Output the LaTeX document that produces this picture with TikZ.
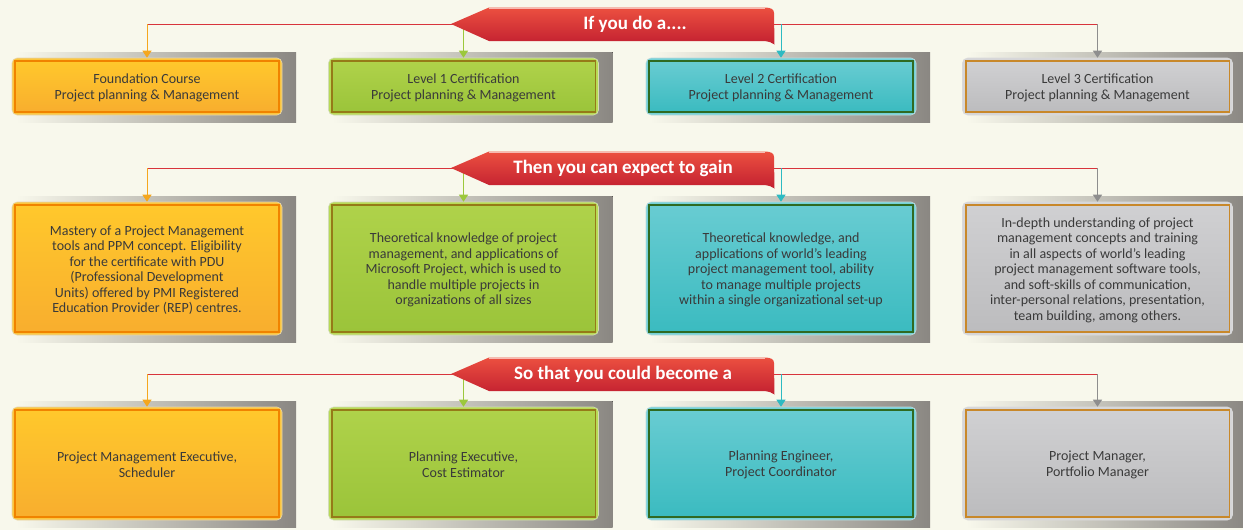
\documentclass[tikz,border=0pt]{standalone}
\usepackage{fontspec}
\setmainfont{Carlito}
\usetikzlibrary{arrows.meta}
\definecolor{bg}{HTML}{F8F8EC}
\definecolor{shgray}{HTML}{8A8782}
\definecolor{txt}{HTML}{3A3A3A}
\definecolor{redline}{HTML}{D8343C}
\definecolor{redtop}{HTML}{EC5040}
\definecolor{redbot}{HTML}{C21F30}
% orange
\definecolor{orarim}{HTML}{FCC63E}
\definecolor{oratop}{HTML}{FFC82C}
\definecolor{orabot}{HTML}{F8AE2E}
\definecolor{orabd}{HTML}{F08300}
\definecolor{oraarr}{HTML}{F5A71E}
% green
\definecolor{grnrim}{HTML}{B8DA55}
\definecolor{grntop}{HTML}{AFD24A}
\definecolor{grnbot}{HTML}{9BC43A}
\definecolor{grnbd}{HTML}{957A18}
\definecolor{grnarr}{HTML}{9CC83C}
% teal
\definecolor{tearim}{HTML}{74D2D8}
\definecolor{teatop}{HTML}{68CCD2}
\definecolor{teabot}{HTML}{3BBBC0}
\definecolor{teabd}{HTML}{2F6A22}
\definecolor{teaarr}{HTML}{2DBAC2}
% gray
\definecolor{gryrim}{HTML}{D6D6D8}
\definecolor{grytop}{HTML}{D0D0D2}
\definecolor{grybot}{HTML}{BCBCBE}
\definecolor{grybd}{HTML}{C8882A}
\definecolor{gryarr}{HTML}{8E8E8E}
\tikzset{
  boxbase/.style={rounded corners=5pt, inner sep=0pt, draw=white!70!#1rim!90!black, line width=0.6pt, fill=#1rim},
  boxtext/.style={text=txt, align=center, inner sep=0pt},
  conn/.style={line width=1pt, -{Triangle[width=9pt,length=7pt]}},
  hline/.style={draw=redline, line width=1pt},
  bannertext/.style={text=white, font=\bfseries\fontsize{19}{22}\selectfont, inner sep=0pt},
}
% \cbox{name}{x}{y}{w}{h}{colour prefix}{font}{text}
\newcommand\cbox[8]{%
  \fill[left color=bg, right color=shgray] (#2-#4/2+4, #3-#5/2-6) rectangle (#2+#4/2+14, #3+#5/2+7);
  \node[boxbase=#6, minimum width=#4pt, minimum height=#5pt] (#1) at (#2,#3) {};
  \draw[top color=#6top, bottom color=#6bot, draw=#6bd, line width=1.6pt]
    ([shift={(3.5,3.5)}]#1.north west) rectangle ([shift={(-3.5,-3.5)}]#1.south east);
  \node[boxtext, font=#7] (#1t) at ([yshift=-1.5pt]#1.center) {#8};
}
% \ribbon{name}{y}{text}{text x}
\newcommand\ribbon[4]{%
  \begin{scope}[yshift=-#2pt]
    \path[top color=redtop, bottom color=redbot]
      (451,0) -- (489,-16.5) -- (765,-16.5) .. controls (771,-16.5) and (774,-14.5) .. (774,-11)
      -- (774.5,20.5) .. controls (772,18.5) and (769,17.5) .. (764,17) -- (489,17) -- cycle;
    \draw[white!60!redtop, line width=0.6pt] (489,-16) -- (765,-16);
    \node[bannertext] (#1) at (#4,0) {#3};
  \end{scope}
}
\begin{document}
\begin{tikzpicture}[x=1pt,y=-1pt]
\fill[bg] (0,0) rectangle (1243,530);
\useasboundingbox (0,0) rectangle (1243,530);

\def\fa{\fontsize{14}{16.2}\selectfont}
\def\fb{\fontsize{14}{15.5}\selectfont}

% Row 1 boxes
\cbox{b11}{147}{86.5}{270}{57}{ora}{\fa}{Foundation Course\\Project planning \& Management}
\cbox{b12}{463.5}{86.5}{270}{57}{grn}{\fa}{Level 1 Certification\\Project planning \& Management}
\cbox{b13}{781}{86.5}{270}{57}{tea}{\fa}{Level 2 Certification\\Project planning \& Management}
\cbox{b14}{1097.5}{86.5}{270}{57}{gry}{\fa}{Level 3 Certification\\Project planning \& Management}

% Row 2 boxes
\cbox{b21}{147}{268.5}{270}{133}{ora}{\fb}{Mastery of a Project Management\\tools and PPM concept. Eligibility\\for the certificate with PDU\\(Professional Development\\Units) offered by PMI Registered\\Education Provider (REP) centres.}
\cbox{b22}{463.5}{268.5}{270}{133}{grn}{\fb}{Theoretical knowledge of project\\management, and applications of\\Microsoft Project, which is used to\\handle multiple projects in\\organizations of all sizes}
\cbox{b23}{781}{268.5}{270}{133}{tea}{\fb}{Theoretical knowledge, and\\applications of world's leading\\project management tool, ability\\to manage multiple projects\\within a single organizational set-up}
\cbox{b24}{1097.5}{268.5}{270}{133}{gry}{\fb}{In-depth understanding of project\\management concepts and training\\in all aspects of world's leading\\project management software tools,\\and soft-skills of communication,\\inter-personal relations, presentation,\\team building, among others.}

% Row 3 boxes
\cbox{b31}{147}{463.5}{270}{113}{ora}{\fa}{Project Management Executive,\\Scheduler}
\cbox{b32}{463.5}{463.5}{270}{113}{grn}{\fa}{Planning Executive,\\Cost Estimator}
\cbox{b33}{781}{463.5}{270}{113}{tea}{\fa}{Planning Engineer,\\Project Coordinator}
\cbox{b34}{1097.5}{463.5}{270}{113}{gry}{\fa}{Project Manager,\\Portfolio Manager}

% connector coordinates
\foreach \r/\y in {1/24, 2/168, 3/374} {
  \coordinate (c\r a) at (147,\y);
  \coordinate (c\r b) at (463.5,\y);
  \coordinate (c\r c) at (781,\y);
  \coordinate (c\r d) at (1097.5,\y);
}
\foreach \r in {1,2,3} {
  \draw[hline] (c\r a) -- (c\r d);
  \draw[conn, draw=oraarr, fill=oraarr] (c\r a) -- (b\r1);
  \draw[conn, draw=grnarr, fill=grnarr] (c\r b) -- (b\r2);
  \draw[conn, draw=teaarr, fill=teaarr] (c\r c) -- (b\r3);
  \draw[conn, draw=gryarr, fill=gryarr] (c\r d) -- (b\r4);
}

% banners
\ribbon{t1}{24}{If you do a....}{635}
\ribbon{t2}{168}{Then you can expect to gain}{623}
\ribbon{t3}{374}{So that you could become a}{623}
\end{tikzpicture}
\end{document}
